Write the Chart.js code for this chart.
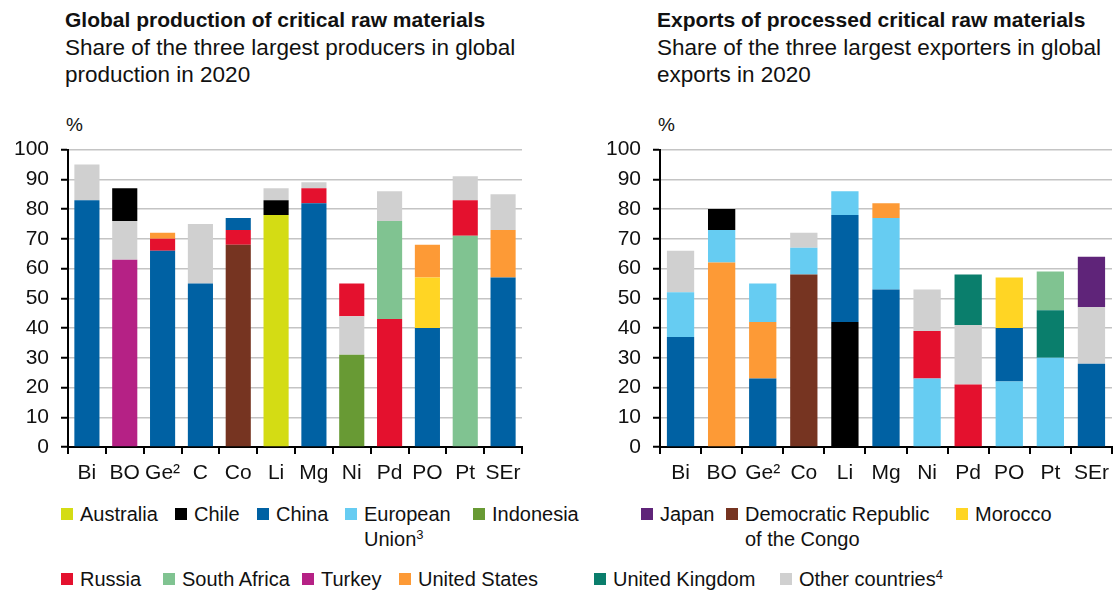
<!DOCTYPE html>
<html>
<head>
<meta charset="utf-8">
<script src="https://cdn.jsdelivr.net/npm/chart.js@4"></script>
<style>
  body { margin: 0; background: #fff; font-family: "Liberation Sans", Arial, sans-serif; color: #111; }
  #page { position: relative; width: 1116px; height: 592px; overflow: hidden; }
  .title { position: absolute; font-weight: bold; font-size: 21px; white-space: nowrap; }
  .sub { position: absolute; font-size: 22.5px; line-height: 27px; white-space: nowrap; }
  .unit { position: absolute; font-size: 19px; }
  canvas { position: absolute; }
  .leg { position: absolute; font-size: 20px; line-height: 25px; white-space: nowrap; }
  .leg i { position: absolute; left: 0; top: 6px; width: 12px; height: 12px; }
  .leg span { position: absolute; left: 19px; top: 0; }
  sup { font-size: 13px; vertical-align: 7px; line-height: 0; }
</style>
</head>
<body>
<div id="page">
  <div class="title" style="left:65px; top:8px;">Global production of critical raw materials</div>
  <div class="sub" style="left:65px; top:34px;">Share of the three largest producers in global<br>production in 2020</div>
  <div class="unit" style="left:66px; top:114px;">%</div>
  <canvas id="prodChart" width="530" height="365" style="left:0; top:125px;"></canvas>

  <div class="title" style="left:657px; top:8px;">Exports of processed critical raw materials</div>
  <div class="sub" style="left:657px; top:34px;">Share of the three largest exporters in global<br>exports in 2020</div>
  <div class="unit" style="left:658px; top:114px;">%</div>
  <canvas id="expChart" width="524" height="365" style="left:592px; top:125px;"></canvas>

  <div id="legend"></div>
</div>
<script>
// colour per country
var countryColors = {
  'Australia': '#d4dc14',
  'Chile': '#000000',
  'China': '#0061a3',
  'EU': '#66ccf2',
  'Indonesia': '#689a34',
  'Japan': '#5f2479',
  'DRC': '#763421',
  'Morocco': '#ffd524',
  'Russia': '#e4112e',
  'South Africa': '#80c391',
  'Turkey': '#b52185',
  'US': '#fd9a36',
  'UK': '#0a7e6c',
  'Other': '#d0d0d0'
};

// production, three largest producers (bottom to top)
var prodLabels = ['Bi', 'BO', 'Ge²', 'C', 'Co', 'Li', 'Mg', 'Ni', 'Pd', 'PO', 'Pt', 'SEr'];
var prodFirst = [83, 63, 66, 55, 68, 78, 82, 31, 43, 40, 71, 57];
var prodFirstWho = ['China', 'Turkey', 'China', 'China', 'DRC', 'Australia', 'China', 'Indonesia', 'Russia', 'China', 'South Africa', 'China'];
var prodSecond = [12, 13, 4, 20, 5, 5, 5, 13, 33, 17, 12, 16];
var prodSecondWho = ['Other', 'Other', 'Russia', 'Other', 'Russia', 'Chile', 'Russia', 'Other', 'South Africa', 'Morocco', 'Russia', 'US'];
var prodThird = [null, 11, 2, null, 4, 4, 2, 11, 10, 11, 8, 12];
var prodThirdWho = ['Other', 'Chile', 'US', 'Other', 'China', 'Other', 'Other', 'Russia', 'Other', 'US', 'Other', 'Other'];

// exports, three largest exporters (bottom to top)
var expLabels = ['Bi', 'BO', 'Ge²', 'Co', 'Li', 'Mg', 'Ni', 'Pd', 'PO', 'Pt', 'SEr'];
var expFirst = [37, 62, 23, 58, 42, 53, 23, 21, 22, 30, 28];
var expFirstWho = ['China', 'US', 'China', 'DRC', 'Chile', 'China', 'EU', 'Russia', 'EU', 'EU', 'China'];
var expSecond = [15, 11, 19, 9, 36, 24, 16, 20, 18, 16, 19];
var expSecondWho = ['EU', 'EU', 'US', 'EU', 'China', 'EU', 'Russia', 'Other', 'China', 'UK', 'Other'];
var expThird = [14, 7, 13, 5, 8, 5, 14, 17, 17, 13, 17];
var expThirdWho = ['Other', 'Chile', 'EU', 'Other', 'EU', 'US', 'Other', 'UK', 'Morocco', 'South Africa', 'Japan'];

var legendItems = [
  ['Australia', 'Australia', 61, 502],
  ['Chile', 'Chile', 175, 502],
  ['China', 'China', 257, 502],
  ['EU', 'European<br>Union<sup>3</sup>', 345, 502],
  ['Indonesia', 'Indonesia', 473, 502],
  ['Japan', 'Japan', 641, 502],
  ['DRC', 'Democratic Republic<br>of the Congo', 726, 502],
  ['Morocco', 'Morocco', 956, 502],
  ['Russia', 'Russia', 61, 567],
  ['South Africa', 'South Africa', 163, 567],
  ['Turkey', 'Turkey', 302, 567],
  ['US', 'United States', 399, 567],
  ['UK', 'United Kingdom', 594, 567],
  ['Other', 'Other countries<sup>4</sup>', 780, 567]
];

var legendBox = document.getElementById('legend');
legendItems.forEach(function (it) {
  var d = document.createElement('div');
  d.className = 'leg';
  d.style.left = it[2] + 'px';
  d.style.top = it[3] + 'px';
  d.innerHTML = '<i style="background:' + countryColors[it[0]] + '"></i><span>' + it[1] + '</span>';
  legendBox.appendChild(d);
});

function colorsFor(who) {
  return who.map(function (c) { return countryColors[c]; });
}

function makeChart(id, labels, first, firstWho, second, secondWho, third, thirdWho, padRight) {
  var ctx = document.getElementById(id).getContext('2d');
  var ds = function (data, who) {
    return {
      data: data,
      backgroundColor: colorsFor(who),
      borderWidth: 0,
      barPercentage: 0.83,
      categoryPercentage: 0.8
    };
  };
  return new Chart(ctx, {
    type: 'bar',
    data: {
      labels: labels,
      datasets: [ds(first, firstWho), ds(second, secondWho), ds(third, thirdWho)]
    },
    options: {
      responsive: false,
      animation: false,
      layout: { padding: { top: 0, right: padRight, left: 0, bottom: 0 } },
      plugins: { legend: { display: false }, tooltip: { enabled: false } },
      scales: {
        x: {
          stacked: true,
          afterFit: function (scale) { scale.height = 43; },
          border: { color: '#000', width: 2 },
          grid: { display: true, drawOnChartArea: false, tickLength: 7, color: '#000', lineWidth: 2 },
          ticks: { color: '#111', font: { family: 'Liberation Sans', size: 21 }, padding: 7, maxRotation: 0, minRotation: 0, autoSkip: false }
        },
        y: {
          stacked: true,
          min: 0,
          max: 100,
          afterFit: function (scale) { scale.width = 68; },
          border: { color: '#000', width: 2 },
          grid: { color: '#c4c4c4', lineWidth: 1.5, tickLength: 7, tickColor: '#000', tickWidth: 2 },
          ticks: { stepSize: 10, color: '#111', font: { family: 'Liberation Sans', size: 21 }, padding: 12 }
        }
      }
    }
  });
}

makeChart('prodChart', prodLabels, prodFirst, prodFirstWho, prodSecond, prodSecondWho, prodThird, prodThirdWho, 8);
makeChart('expChart', expLabels, expFirst, expFirstWho, expSecond, expSecondWho, expThird, expThirdWho, 1);
</script>
</body>
</html>
